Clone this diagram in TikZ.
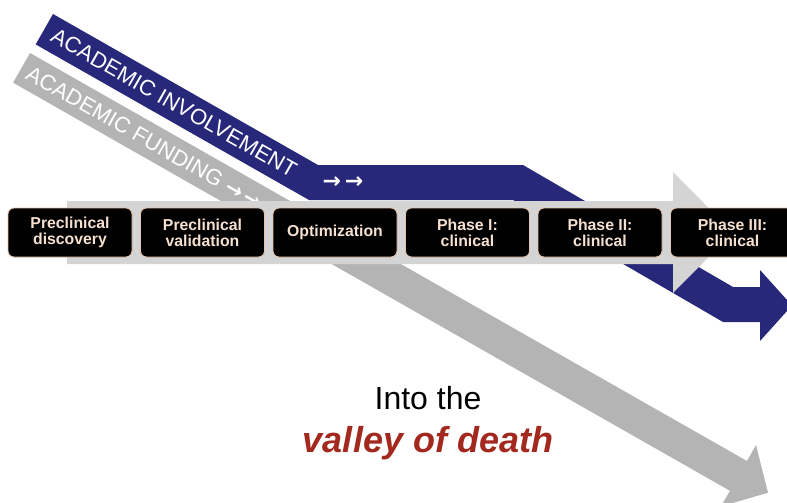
\documentclass[tikz,border=0pt]{standalone}
\usepackage{fontspec}
\setmainfont{Liberation Sans}
\newfontfamily\arrowfont{DejaVu Sans}
\definecolor{bandblue}{RGB}{40,40,122}
\definecolor{fundgray}{RGB}{180,180,180}
\definecolor{bargray}{RGB}{212,212,212}
\definecolor{boxedge}{RGB}{228,196,172}
\definecolor{boxtext}{RGB}{246,224,208}
\definecolor{deathred}{RGB}{163,40,30}
\begin{document}
\begin{tikzpicture}[x=1pt,y=-1pt,
  bandtext/.style={inner sep=0pt, text=white, font=\fontsize{22}{24}\selectfont},
  arrowtext/.style={inner sep=0pt, text=white, font=\arrowfont\bfseries\fontsize{22}{24}\selectfont},
  stage/.style={rectangle, rounded corners=6pt, fill=black, draw=boxedge, line width=0.9pt,
    minimum width=124pt, minimum height=49pt, inner sep=0pt, align=center,
    text=boxtext, font=\bfseries\fontsize{15.8}{16}\selectfont}]
\clip (0,0) rectangle (787,503);
\fill[white] (0,0) rectangle (787,503);
% academic funding band (straight arrow into the valley)
\fill[fundgray] (30,53) -- (747,461) -- (756,445) -- (768,492.7) -- (721,506.4) -- (730,490.8) -- (13.1,82.7) -- cycle;
\node[bandtext, rotate=-29.64, anchor=west] (fundtxt) at (28,71.6) {ACADEMIC FUNDING {\arrowfont\bfseries\fontsize{21}{24}\selectfont →\,→}};
% academic involvement band
\fill[bandblue] (53,14) -- (318,165) -- (523,165) -- (733,287) -- (760,287) -- (760,270) -- (792,305.5)
  -- (760,341) -- (760,322) -- (723,322) -- (513,200) -- (309,200) -- (35.7,44.4) -- cycle;
\node[bandtext, rotate=-29.64, anchor=west] (invtxt) at (53,34) {ACADEMIC INVOLVEMENT};
\node[arrowtext] (invarrows) at (343,183) {→\,→};
% pipeline arrow
\fill[bargray] (67,201) -- (673,201) -- (673,172) -- (733,232.5) -- (673,293) -- (673,264) -- (67,264) -- cycle;
% stages
\node[stage] (s1) at (70,232.5) {Preclinical\\discovery};
\node[stage] (s2) at (202.5,232.5) {Preclinical\\validation};
\node[stage] (s3) at (335,232.5) {Optimization};
\node[stage] (s4) at (467.5,232.5) {Phase I:\\clinical};
\node[stage] (s5) at (600,232.5) {Phase II:\\clinical};
\node[stage] (s6) at (732.5,232.5) {Phase III:\\clinical};
% caption
\node[anchor=base, inner sep=0pt, font=\fontsize{32}{36}\selectfont] (into) at (428,409) {Into the};
\node[anchor=base, inner sep=0pt, text=deathred, font=\bfseries\itshape\fontsize{36}{40}\selectfont] (valley) at (428,452) {valley of death};
\end{tikzpicture}
\end{document}
